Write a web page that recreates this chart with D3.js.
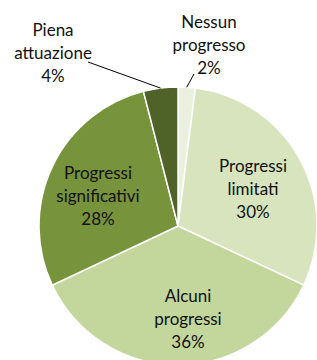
<!DOCTYPE html>
<html><head><meta charset="utf-8">
<script src="https://cdn.jsdelivr.net/npm/d3@7/dist/d3.min.js"></script>
<style>html,body{margin:0;padding:0;background:#fff;}svg{display:block;}</style>
</head><body>
<svg id="c" width="317" height="360"></svg>
<script>
const categories = ["Nessun progresso", "Progressi limitati", "Alcuni progressi", "Progressi significativi", "Piena attuazione"];
const values = [2, 30, 36, 28, 4];
const labelLines = [["Nessun", "progresso", "2%"], ["Progressi", "limitati", "30%"], ["Alcuni", "progressi", "36%"], ["Progressi", "significativi", "28%"], ["Piena", "attuazione", "4%"]];
const colors = ["#ebf1de", "#d7e4bd", "#c3d69b", "#77933c", "#4f6228"];

const svg = d3.select("#c");
const cx = 178, cy = 226, r = 139;
const g = svg.append("g").attr("transform", `translate(${cx},${cy})`);
const data = categories.map((c, i) => ({c, v: values[i], i}));
const pie = d3.pie().sort(null).value(d => d.v);
const arcs = pie(data);
const arc = d3.arc().innerRadius(0).outerRadius(r);
g.selectAll("path").data(arcs).join("path")
  .attr("d", arc).attr("fill", d => colors[d.data.i])
  .attr("stroke", "#fff").attr("stroke-width", 1.5);

// label positions relative to center (outside labels for small slices)
const labelPos = [[31, -204], [75, -60], [10, 70], [-80, -53], [-125, -196]];
const lh = 23;
arcs.forEach((a, k) => {
  const [lx, ly] = labelPos[k];
  const t = g.append("text").attr("text-anchor", "middle")
    .attr("font-family", "Lato, 'Open Sans', sans-serif").attr("font-size", 17).attr("fill", "#111");
  labelLines[k].forEach((s, j) => {
    t.append("tspan").attr("x", lx).attr("y", ly + j * lh).attr("dy", "0.35em").text(s);
  });
});

// leader lines
const leaders = [
  {i: 0, from: [194 - cx, 74 - cy]},
  {i: 4, from: [88 - cx, 62 - cy]}
];
leaders.forEach(l => {
  const a = arcs[l.i];
  const mid = (a.startAngle + a.endAngle) / 2;
  const px = Math.sin(mid) * r, py = -Math.cos(mid) * r;
  g.append("line").attr("x1", l.from[0]).attr("y1", l.from[1]).attr("x2", px).attr("y2", py)
    .attr("stroke", "#000").attr("stroke-width", 1);
});
</script>
</body></html>
